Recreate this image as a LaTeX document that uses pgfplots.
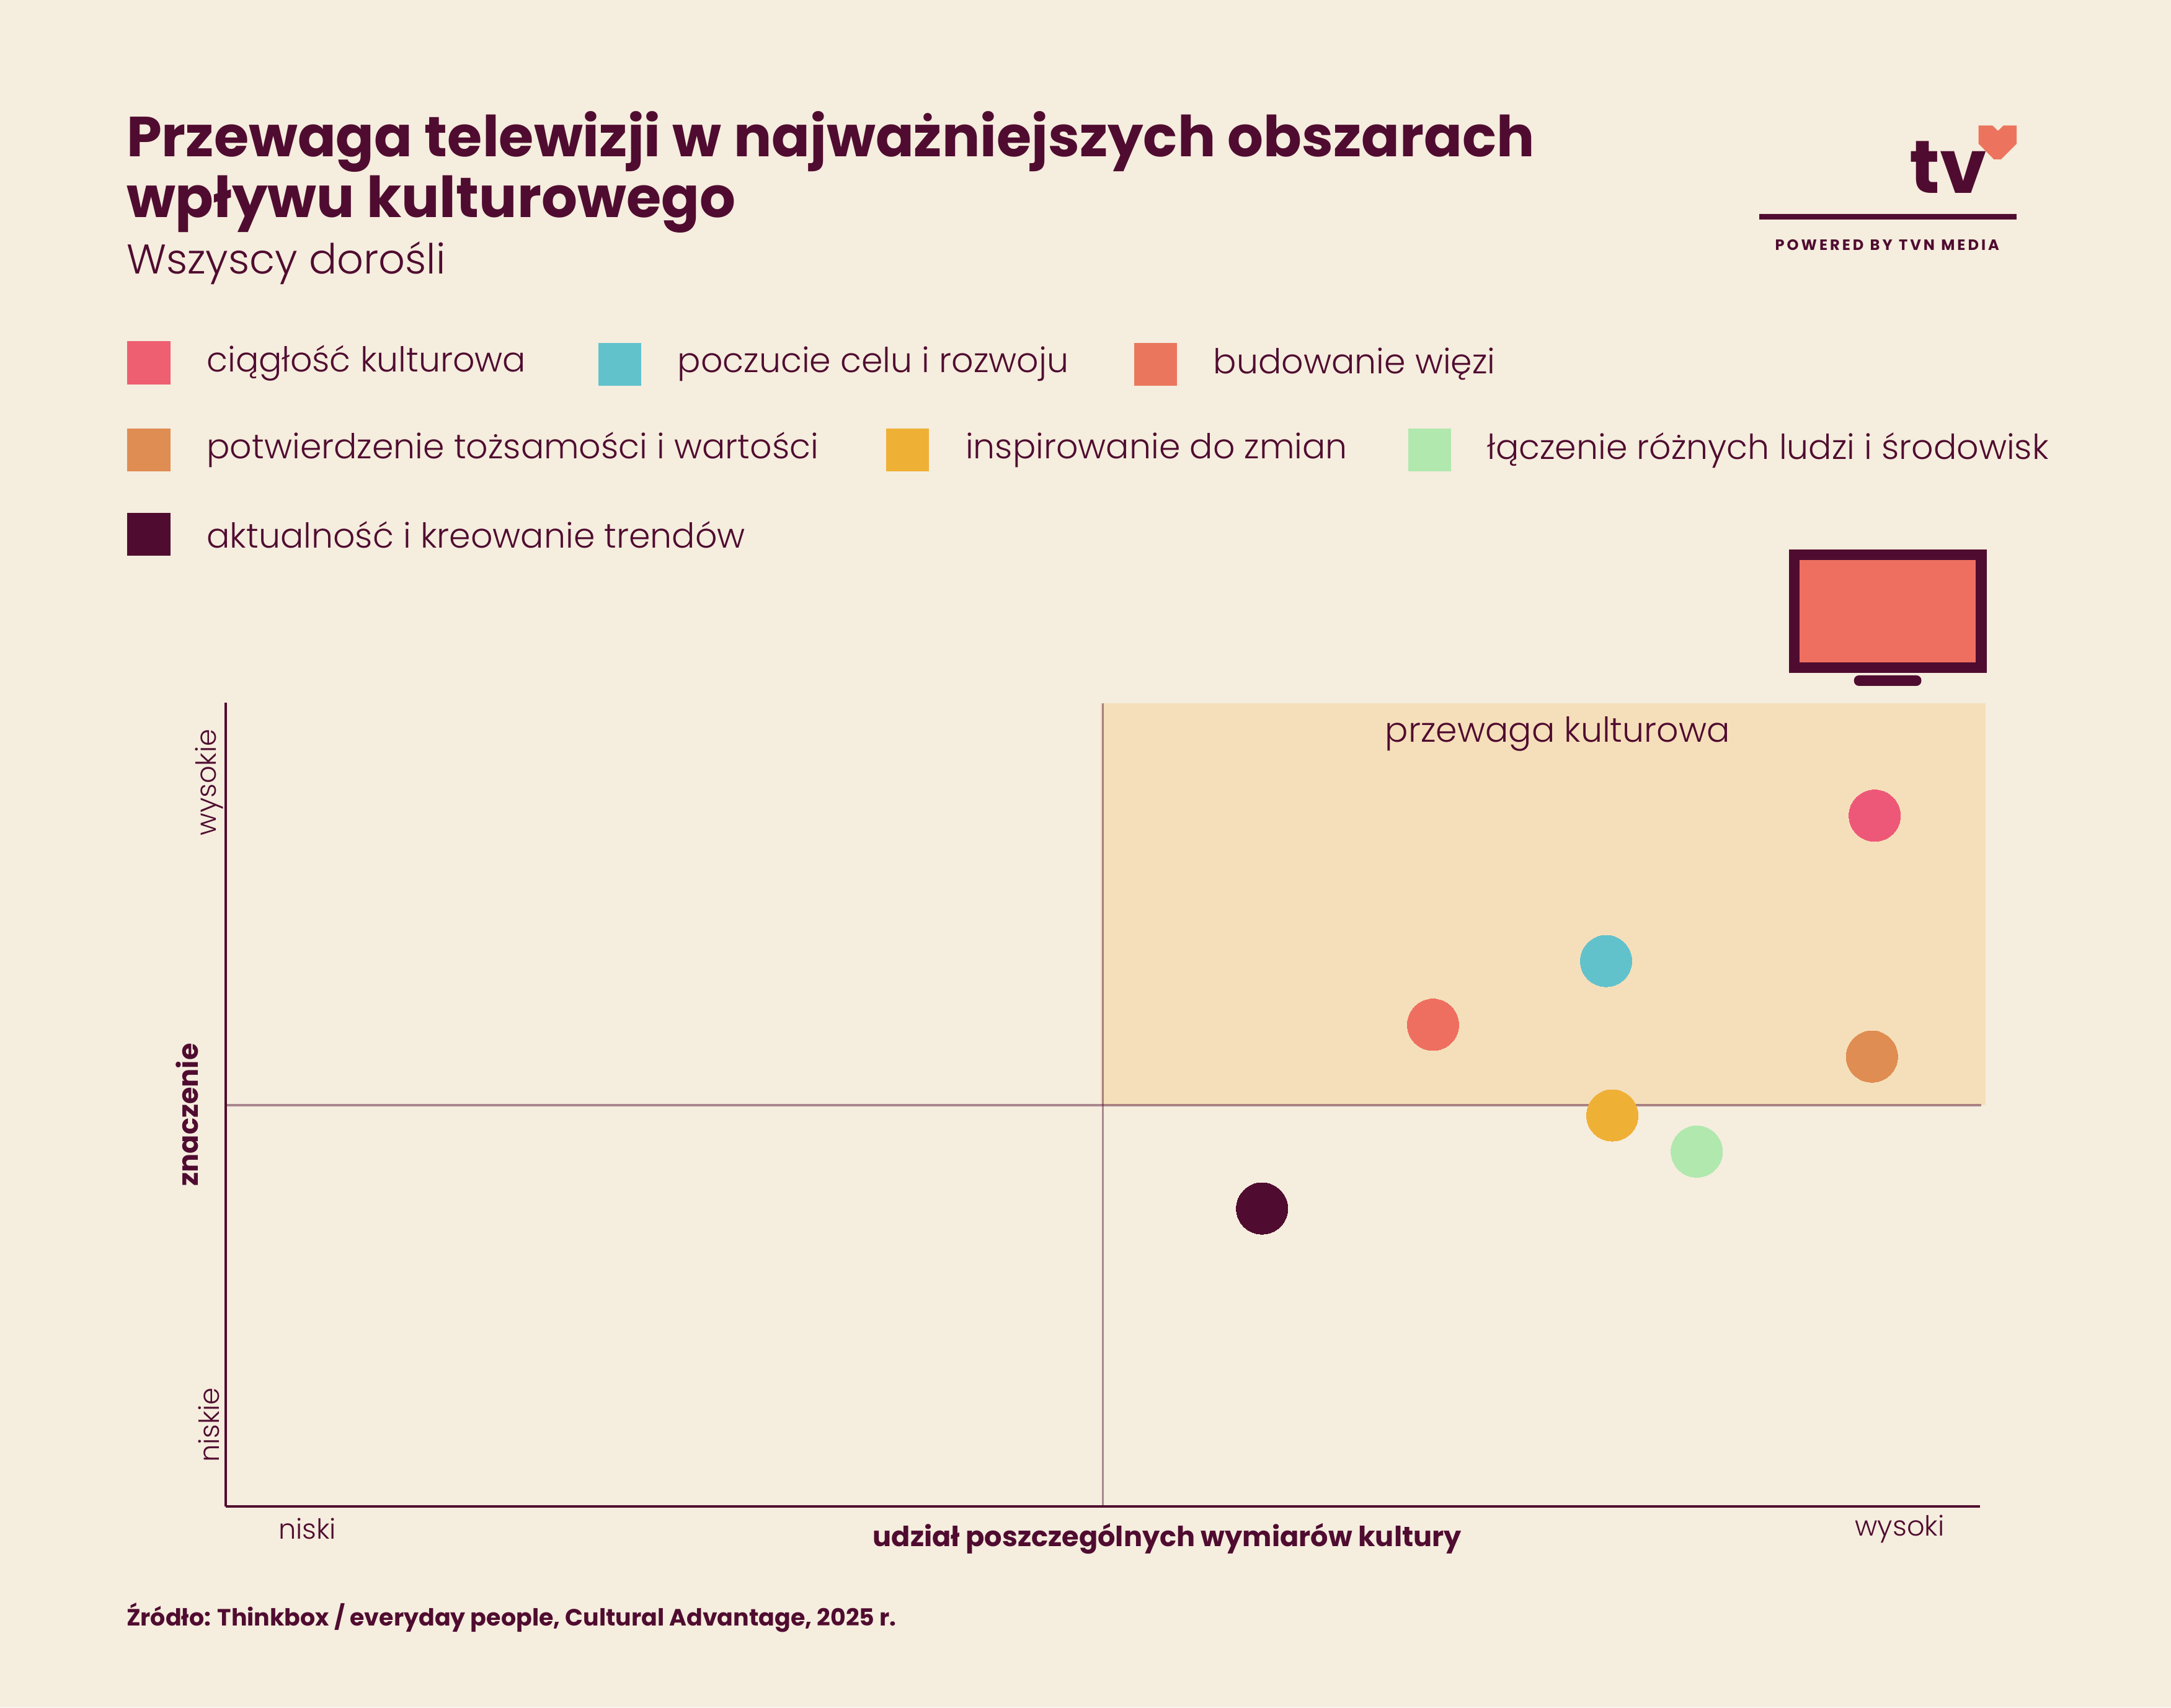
\documentclass[border=0pt]{standalone}
\usepackage{pgfplots}
\pgfplotsset{compat=1.18}
\usepackage{fontspec}
\setmainfont{Poppins}
\newfontfamily\lightf{Poppins Light}
\definecolor{bgc}{HTML}{F5EDDE}
\definecolor{ink}{HTML}{500C30}
\definecolor{zone}{HTML}{F5DFBA}
\definecolor{c1}{HTML}{EE5878}
\definecolor{c2}{HTML}{62C2CC}
\definecolor{c3}{HTML}{EE6F60}
\definecolor{c4}{HTML}{DF8D52}
\definecolor{c5}{HTML}{EFB036}
\definecolor{c6}{HTML}{B0E8AE}
\definecolor{c7}{HTML}{500C30}
\newcommand{\lab}[4]{%
  \fill[#4] (#1,#2-15.5) rectangle ++(31,31);
  \node[anchor=west,inner sep=0pt,text=ink,font=\lightf\fontsize{12.4}{14}\selectfont] at (#1+57,#2) {#3};}
\pgfplotsset{dot/.style={only marks,mark=*,mark size=9.3pt,mark options={draw=#1,fill=#1,line width=0pt}}}
\begin{document}
\begin{tikzpicture}[x=0.5pt,y=-0.5pt]
\fill[bgc] (0,0) rectangle (1568,1233);
\node[anchor=north west,inner sep=0pt,align=left,text=ink,font=\bfseries\fontsize{20.4}{22}\selectfont] at (91,80) {Przewaga telewizji w najważniejszych obszarach\\wpływu kulturowego};
\node[anchor=west,inner sep=0pt,text=ink,font=\lightf\fontsize{15}{18}\selectfont] at (91,190) {Wszyscy dorośli};
\lab{92}{262}{ciągłość kulturowa}{c1!70!c3}
\lab{432}{263}{poczucie celu i rozwoju}{c2}
\lab{819}{263}{budowanie więzi}{c3!75!c4}
\lab{92}{325}{potwierdzenie tożsamości i wartości}{c4}
\lab{640}{325}{inspirowanie do zmian}{c5}
\lab{1017}{325}{łączenie różnych ludzi i środowisk}{c6}
\lab{92}{386}{aktualność i kreowanie trendów}{c7}
% logo
\node[anchor=base,inner sep=0pt,text=ink,font=\bfseries\fontsize{27}{27}\selectfont] at (1407,139.7) {tv};
\fill[c3!85!c4] (1429,90.6) -- (1439,90.6) -- (1443,94.5) -- (1447,90.6) -- (1456.5,90.6) -- (1456.5,103.8) -- (1445.3,115) -- (1440,115) -- (1429,103.8) -- cycle;
\fill[ink] (1270.6,154.5) rectangle (1456.5,158.5);
\node[inner sep=0pt,text=ink,font=\bfseries\fontsize{5.4}{6}\selectfont] at (1363,177) {P\,O\,W\,E\,R\,E\,D\ \ B\,Y\ \ T\,V\,N\ \ M\,E\,D\,I\,A};
% tv icon
\fill[ink] (1292,397) rectangle (1435,485.8);
\fill[c3] (1299.6,404.2) rectangle (1427,478.3);
\fill[ink,rounded corners=1.8pt] (1339,487.7) rectangle (1387.7,495.3);
\coordinate (O) at (163,1088);
\begin{axis}[
  at={(O)},anchor=south west,
  scale only axis,width=633.5pt,height=290.25pt,
  xmin=0,xmax=1267,ymin=0,ymax=580.5,
  axis lines=left,axis line style={ink,line width=0.9pt,-},
  xtick=\empty,ytick=\empty,clip=false,
]
\addplot[fill=zone,draw=none] coordinates {(632,290) (1271,290) (1271,580) (632,580)} -- cycle;
\addplot[ink,opacity=0.45,line width=0.9pt] coordinates {(0,290) (1268,290)};
\addplot[ink,opacity=0.45,line width=0.7pt] coordinates {(633.7,0) (633.7,580)};
\addplot[dot=c1] coordinates {(1191,499)};
\addplot[dot=c2] coordinates {(997,394)};
\addplot[dot=c3] coordinates {(872,348)};
\addplot[dot=c4] coordinates {(1189,325)};
\addplot[dot=c5] coordinates {(1001.5,282.5)};
\addplot[dot=c6] coordinates {(1062.5,256.4)};
\addplot[dot=c7] coordinates {(748.5,215.3)};
\end{axis}
\node[inner sep=0pt,text=ink,font=\lightf\fontsize{12.4}{14}\selectfont] at (1125,530) {przewaga kulturowa};
\node[inner sep=0pt,text=ink,font=\lightf\fontsize{10}{12}\selectfont,rotate=90] at (151,565) {wysokie};
\node[inner sep=0pt,text=ink,font=\lightf\fontsize{10}{12}\selectfont,rotate=90] at (151,1029) {niskie};
\node[inner sep=0pt,text=ink,font=\bfseries\fontsize{10}{12}\selectfont,rotate=90] at (135,805) {znaczenie};
\node[inner sep=0pt,text=ink,font=\lightf\fontsize{10}{12}\selectfont] at (222,1104) {niski};
\node[inner sep=0pt,text=ink,font=\lightf\fontsize{10}{12}\selectfont] at (1372,1104) {wysoki};
\node[inner sep=0pt,text=ink,font=\bfseries\fontsize{10}{12}\selectfont] at (843,1111) {udział poszczególnych wymiarów kultury};
\node[anchor=west,inner sep=0pt,text=ink,font=\bfseries\fontsize{8.5}{10}\selectfont] at (91,1168) {Źródło: Thinkbox / everyday people, Cultural Advantage, 2025 r.};
\end{tikzpicture}
\end{document}
